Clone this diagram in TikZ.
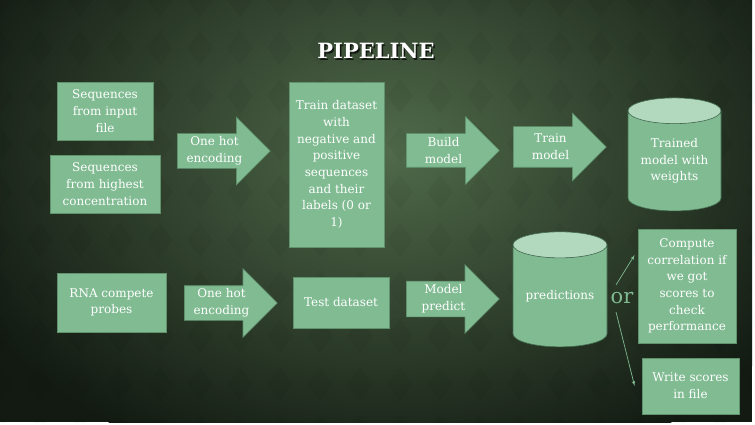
\documentclass[tikz,border=0pt]{standalone}
\usepackage{fontspec}
\setmainfont{DejaVu Serif}
\usepackage{tikz}
\usetikzlibrary{shapes,arrows,calc}

\definecolor{bgInner}{RGB}{80,106,74}
\definecolor{bgOuter}{RGB}{18,26,18}
\definecolor{boxGreen}{RGB}{128,187,146}
\definecolor{boxEdge}{RGB}{96,146,110}
\definecolor{capGreen}{RGB}{178,216,190}
\definecolor{cylEdge}{RGB}{70,110,82}

\newcommand{\bodyfont}{\fontsize{12}{16.7}\selectfont}

\tikzstyle{textBox} = [rectangle, draw=boxEdge, line width=0.8pt, fill=boxGreen,
    text=white, align=center, inner sep=0pt, font=\bodyfont]
\tikzstyle{blockArrow} = [single arrow, draw=boxEdge, line width=0.6pt, fill=boxGreen,
    inner xsep=0pt, minimum height=93pt, anchor=tail]
\tikzstyle{arrowLabel} = [text=white, align=center, inner sep=0pt, font=\bodyfont]
\tikzstyle{storage} = [cylinder, shape border rotate=90, aspect=0.38, draw=cylEdge,
    line width=0.6pt, cylinder uses custom fill, cylinder body fill=boxGreen,
    cylinder end fill=capGreen, text=white, align=center, inner sep=0pt, font=\bodyfont]
\tikzstyle{choice} = [draw=boxGreen, line width=0.7pt, -latex']

\begin{document}
\begin{tikzpicture}[x=1pt, y=-1pt]
    \useasboundingbox (0,0) rectangle (755,425);
    % Background
    \fill[white] (0,0) rectangle (755,425);
    \begin{scope}
        \clip (0,0) rectangle (752,422);
        \fill[bgOuter] (0,0) rectangle (752,422);
        \shade[inner color=bgInner, outer color=bgOuter] (390,150) ellipse [x radius=470, y radius=340];
        \foreach \cx in {0,40,...,760}
            \foreach \cy in {0,48,...,432} {
                \fill[black, opacity=0.035] (\cx,\cy-18) -- (\cx+13,\cy) -- (\cx,\cy+18) -- (\cx-13,\cy) -- cycle;
            }
    \end{scope}

    % Title
    \node[text=black, opacity=0.7, font=\fontsize{21}{24}\bfseries\selectfont] (headingShadow) at (377.5,52.5) {PIPELINE};
    \node[text=white, font=\fontsize{21}{24}\bfseries\selectfont] (heading) at (376,51) {PIPELINE};

    % Place nodes
    \node[textBox, minimum width=96pt, minimum height=58pt] (inputSeq) at (105,111) {Sequences\\from input\\file};
    \node[textBox, minimum width=110pt, minimum height=58pt] (highSeq) at (105,184) {Sequences\\from highest\\concentration};
    \node[blockArrow, inner ysep=17pt, single arrow head extend=16.5pt] (encTrain) at (177,151) {};
    \node[arrowLabel] at ($(encTrain.tail)!0.4!(encTrain.tip)$) {One hot\\encoding};
    \node[textBox, minimum width=95pt, minimum height=165pt] (trainSet) at (336.5,164.5)
        {Train dataset\\with\\negative and\\positive\\sequences\\and their\\labels (0 or\\1)};
    \node[blockArrow, inner ysep=16.5pt, single arrow head extend=17pt] (buildModel) at (406,150.5) {};
    \node[arrowLabel] at ($(buildModel.tail)!0.4!(buildModel.tip)$) {Build\\model};
    \node[blockArrow, inner ysep=20pt, single arrow head extend=13.5pt] (trainModel) at (513,147) {};
    \node[arrowLabel] at ($(trainModel.tail)!0.4!(trainModel.tip)$) {Train\\model};
    \node[storage, minimum width=93pt, minimum height=113pt] (trainedModel) at (674.5,161) {Trained\\model with\\weights};

    \node[textBox, minimum width=109pt, minimum height=59pt] (rnaProbes) at (111.5,302.5) {RNA compete\\probes};
    \node[blockArrow, inner ysep=17pt, single arrow head extend=17pt] (encTest) at (184,303) {};
    \node[arrowLabel] at ($(encTest.tail)!0.4!(encTest.tip)$) {One hot\\encoding};
    \node[textBox, minimum width=96pt, minimum height=51pt] (testSet) at (341,302.5) {Test dataset};
    \node[blockArrow, inner ysep=17.5pt, single arrow head extend=16.5pt] (modelPredict) at (406,299) {};
    \node[arrowLabel] at ($(modelPredict.tail)!0.4!(modelPredict.tip)$) {Model\\predict};
    \node[storage, minimum width=94pt, minimum height=115pt] (predictions) at (560,296) {predictions};
    \node[text=boxGreen, inner sep=0pt, font=\fontsize{21}{22}\selectfont] (orWord) at (622,298) {or};
    \node[textBox, minimum width=98pt, minimum height=114pt] (compute) at (687,286)
        {Compute\\correlation if\\we got\\scores to\\check\\performance};
    \node[textBox, minimum width=97pt, minimum height=56pt] (writeScores) at (690.5,386) {Write scores\\in file};

    % Draw edges
    \path[choice] ([shift={(-6,-13)}]orWord.center) -- ([shift={(-3,-31)}]compute.west);
    \path[choice] ([shift={(-6,14)}]orWord.center) -- ([shift={(-7,0)}]writeScores.west);
\end{tikzpicture}
\end{document}
